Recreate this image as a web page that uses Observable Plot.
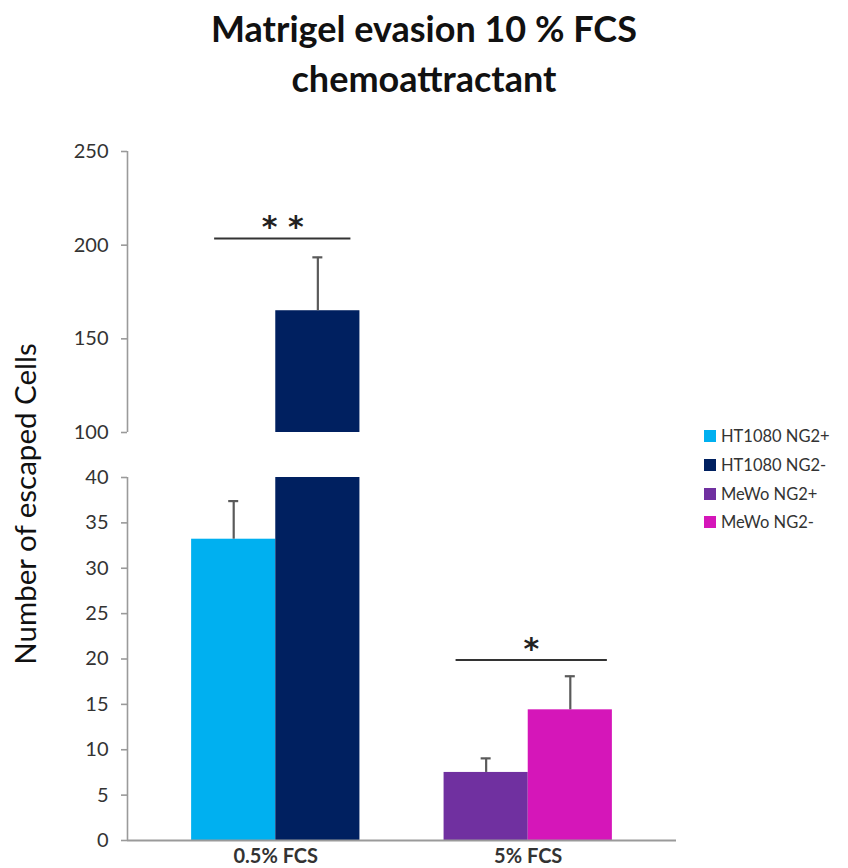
<!DOCTYPE html>
<html>
<head>
<meta charset="utf-8">
<script src="https://cdn.jsdelivr.net/npm/d3@7"></script>
<script src="https://cdn.jsdelivr.net/npm/@observablehq/plot@0.6"></script>
<style>
  html, body { margin: 0; padding: 0; background: #fff; }
  #chart { position: relative; width: 848px; height: 868px; font-family: Lato, "Open Sans", sans-serif; }
  #title { position: absolute; left: 0; top: 3px; width: 848px; text-align: center;
           font-weight: bold; font-size: 36px; line-height: 50px; color: #111; }
  #ylabel { position: absolute; left: 24px; top: 504px; transform: translate(-50%, -50%) rotate(-90deg);
            white-space: nowrap; font-size: 29.5px; color: #111; }
  .panel { position: absolute; left: 0; }
  #legend { position: absolute; left: 704px; top: 422px; font-size: 16.5px; color: #333; }
  #legend .item { display: flex; align-items: center; height: 28.7px; }
  #legend .sw { width: 12px; height: 12px; margin-right: 5px; }
</style>
</head>
<body>
<div id="chart">
  <div id="title">Matrigel evasion 10 % FCS<br>chemoattractant</div>
  <div id="ylabel">Number of escaped Cells</div>
  <div id="legend"></div>
</div>
<script>
// Escaped cell counts per cell line, mean and error
const groups = ["0.5% FCS", "5% FCS"];
const series = ["HT1080 NG2+", "HT1080 NG2-", "MeWo NG2+", "MeWo NG2-"];
const seriesGroup = ["0.5% FCS", "0.5% FCS", "5% FCS", "5% FCS"];
const seriesSlot = ["NG2+", "NG2-", "NG2+", "NG2-"];
const means = [33.2, 165, 7.5, 14.4];
const errors = [4.2, 28.5, 1.55, 3.7];
const colors = ["#00b0f0", "#002060", "#7030a0", "#d516b9"];

// Broken value axis: lower and upper ranges
const lowerDomain = [0, 40];
const lowerTicks = [0, 5, 10, 15, 20, 25, 30, 35, 40];
const upperDomain = [100, 250];
const upperTicks = [100, 150, 200, 250];

// Significance brackets
const sigGroups = ["0.5% FCS", "5% FCS"];
const sigLevels = [203.5, 19.9];
const sigLabels = ["* *", "*"];

const data = series.map((s, i) => ({
  series: s, group: seriesGroup[i], slot: seriesSlot[i],
  mean: means[i], top: means[i] + errors[i]
}));
const sig = sigGroups.map((g, i) => ({group: g, level: sigLevels[i], label: sigLabels[i]}));

// Shared horizontal layout
const W = 848, ML = 127, MR = 172;
const padInner = 1 / 3, padOuter = 0.254;
const step = (W - ML - MR) / (groups.length - padInner + 2 * padOuter);
const bandwidth = step * (1 - padInner);
const half = bandwidth / 2;
const axisColor = "#9a9a9a";
const errColor = "#5a5a5a";

function panel({domain, ticks, top, height, marginTop, marginBottom, bottomAxis, sigIndex, sigInsets, sigDx}) {
  const bars = (slot, opts) => Plot.barY(data.filter(d => d.slot === slot),
    {x: "group", y1: domain[0] > 0 ? domain[0] : 0, y2: "mean", fill: "series", clip: true, ...opts});
  const errs = (slot, dx) => [
    Plot.ruleX(data.filter(d => d.slot === slot),
      {x: "group", y1: "mean", y2: "top", dx, stroke: errColor, strokeWidth: 2.2, clip: true}),
    Plot.tickY(data.filter(d => d.slot === slot),
      {x: "group", y: "top", dx, insetLeft: half - 5, insetRight: half - 5, stroke: errColor, strokeWidth: 2.2, clip: true})
  ];
  const s = sig.slice(sigIndex, sigIndex + 1);
  const marks = [
    bars("NG2+", {insetRight: half}),
    bars("NG2-", {insetLeft: half}),
    ...errs("NG2+", -half / 2),
    ...errs("NG2-", half / 2),
    Plot.tickY(s, {x: "group", y: "level", insetLeft: sigInsets[0], insetRight: sigInsets[1], stroke: "#333", strokeWidth: 2}),
    Plot.text(s, {x: "group", y: "level", text: "label", dx: sigDx, dy: -11, fontSize: 30, fontWeight: "bold",
      fontFamily: "DejaVu Sans", fill: "#222", lineAnchor: "middle"}),
    // value axis line and ticks
    Plot.ruleX(groups.slice(0, 1), {x: d => d, y1: domain[0], y2: domain[1],
      dx: -(padOuter * step + half), stroke: axisColor, strokeWidth: 1.6}),
    Plot.axisY({ticks, tickSize: 6, tickPadding: 13, stroke: axisColor, strokeWidth: 1.6,
      label: null, fill: "#333", fontSize: 20})
  ];
  if (bottomAxis) {
    marks.push(Plot.ruleY([0], {stroke: axisColor, strokeWidth: 1.8}));
    marks.push(Plot.axisX({tickSize: 0, tickPadding: 8, label: null, fontWeight: "bold", fontSize: 20, fill: "#333"}));
  }
  const svg = Plot.plot({
    width: W, height, marginLeft: ML, marginRight: MR, marginTop, marginBottom,
    style: {fontFamily: "Lato, 'Open Sans', sans-serif", background: "transparent", overflow: "visible"},
    x: {domain: groups, paddingInner: padInner, paddingOuter: padOuter, round: false, axis: null},
    y: {domain, axis: null},
    color: {domain: series, range: colors},
    marks
  });
  svg.classList.add("panel");
  svg.style.top = top + "px";
  return svg;
}

const chart = document.getElementById("chart");
// upper range: 250 at y=151, 100 at y=432
chart.appendChild(panel({domain: upperDomain, ticks: upperTicks, top: 141, height: 293,
  marginTop: 10, marginBottom: 2, bottomAxis: false, sigIndex: 0, sigInsets: [23, 9], sigDx: 7}));
// lower range: 40 at y=477, 0 at y=840
chart.appendChild(panel({domain: lowerDomain, ticks: lowerTicks, top: 467, height: 401,
  marginTop: 10, marginBottom: 28, bottomAxis: true, sigIndex: 1, sigInsets: [12, 5], sigDx: 3}));

// Legend
const legend = document.getElementById("legend");
series.forEach((s, i) => {
  const item = document.createElement("div");
  item.className = "item";
  const sw = document.createElement("span");
  sw.className = "sw";
  sw.style.background = colors[i];
  const label = document.createElement("span");
  label.textContent = s;
  item.append(sw, label);
  legend.appendChild(item);
});
</script>
</body>
</html>
